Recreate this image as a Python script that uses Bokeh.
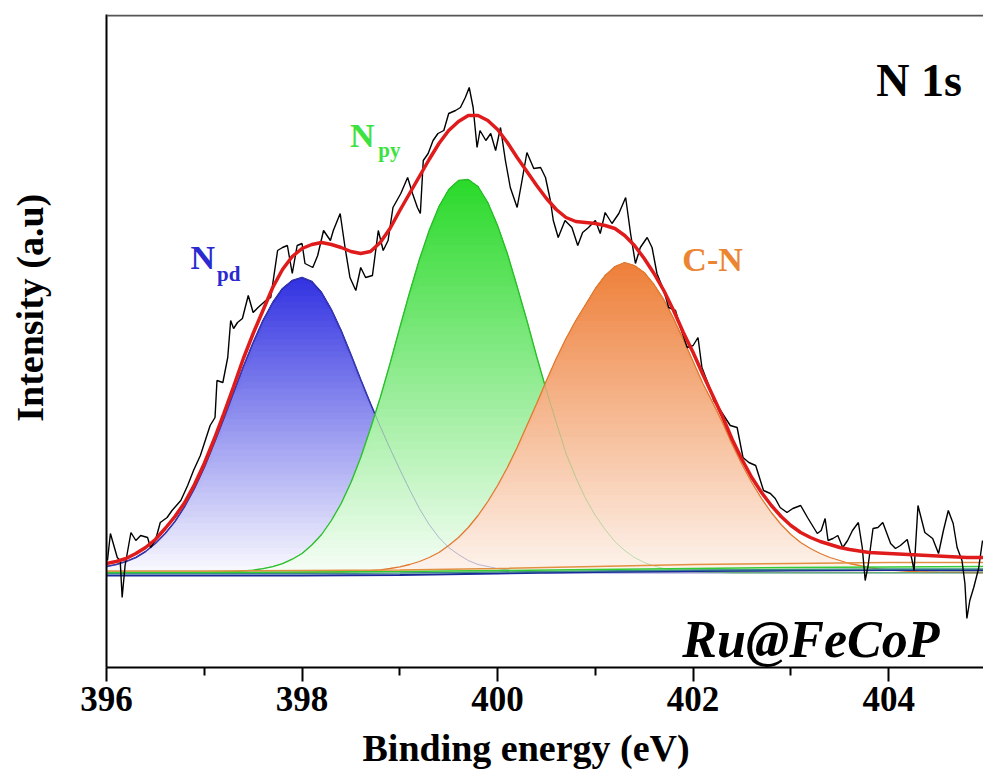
import numpy as np
from bokeh.plotting import figure
from bokeh.models import FixedTicker, Label, Span, Range1d, Title
from bokeh.embed import file_html
from bokeh.resources import INLINE

# ---------------- data ----------------
# common energy grid for the fitted components, 396.0 ... 405.0 eV in 0.1 eV steps
energy = np.round(np.linspace(396.0, 405.0, 91), 1)

peak_npd = [6, 8, 11, 15, 21, 29, 39, 51, 66, 84,
            105, 129, 154, 180, 206, 230, 252, 270, 284, 292,
            295, 291, 280, 263, 242, 218, 193, 169, 146, 124,
            103, 83, 64, 48, 35, 25, 18, 12, 8, 6,
            4, 2.5, 1.5, 1, 0.5, 0, 0, 0, 0, 0,
            0, 0, 0, 0, 0, 0, 0, 0, 0, 0,
            0, 0, 0, 0, 0, 0, 0, 0, 0, 0,
            0, 0, 0, 0, 0, 0, 0, 0, 0, 0,
            0, 0, 0, 0, 0, 0, 0, 0, 0, 0,
            0]

peak_npy = [0, 0, 0, 0, 0, 0, 0, 0, 0, 0,
            0.2, 0.3, 0.5, 0.9, 1.5, 2.4, 3.8, 5.9, 8.9, 13.3,
            19, 27.5, 38, 52, 69, 90, 115, 144, 175, 209,
            245, 280, 313, 342, 366, 383, 392, 393, 386, 370,
            347, 319, 286, 252, 216, 182, 150, 119, 95, 74,
            57, 43, 31, 22, 15, 10, 6.5, 4, 2.6, 1.6,
            1, 0.6, 0.3, 0.1, 0, 0, 0, 0, 0, 0,
            0, 0, 0, 0, 0, 0, 0, 0, 0, 0,
            0, 0, 0, 0, 0, 0, 0, 0, 0, 0,
            0]

peak_cn = [0, 0, 0, 0, 0, 0, 0, 0, 0, 0,
           0, 0, 0, 0, 0, 0, 0, 0, 0, 0,
           0.1, 0.2, 0.3, 0.4, 0.5, 0.8, 1.2, 1.9, 2.7, 4.0,
           5.6, 8, 11, 15, 20, 27, 35, 45, 57, 71,
           87, 105, 125, 147, 169, 192, 214, 234, 252, 268,
           284, 297, 306, 310, 307, 300, 288, 273, 254, 233,
           211, 189, 170, 150, 128, 108, 90, 74, 60, 48,
           38, 30, 24, 19, 15, 12, 9, 7, 5, 3.5,
           2.5, 1.8, 1.2, 0.8, 0.5, 0.3, 0.2, 0.1, 0, 0,
           0]

envelope = [9, 11, 14, 19, 25, 33, 44, 56, 70, 88,
            109, 133, 159, 186, 214, 239, 262, 285, 303, 316,
            324, 328, 330, 328, 325, 321, 319, 321, 330, 344,
            362, 379, 396, 413, 429, 442, 451, 457, 457, 452,
            443, 430, 415, 401, 387, 374, 363, 355, 351, 350,
            349, 347, 344, 337, 327, 314, 299, 282, 262, 240,
            220, 198, 177, 156, 133, 113, 95, 80, 67, 56,
            47, 40, 35, 31, 28, 25, 23, 21.5, 20, 19.5,
            19, 18.5, 18, 17.5, 17, 16.5, 16, 15.5, 15, 15,
            15]

# measured spectrum (raw counts, arbitrary units)
raw_energy = [396.01, 396.04, 396.11, 396.14, 396.16, 396.19, 396.25, 396.30, 396.35, 396.42,
              396.45, 396.50, 396.55, 396.62, 396.67, 396.76, 396.83, 396.89, 396.96, 397.01,
              397.06, 397.11, 397.13, 397.19, 397.24, 397.27, 397.30, 397.34, 397.39, 397.45,
              397.50, 397.55, 397.63, 397.68, 397.75, 397.80, 397.85, 397.90, 397.95, 398.00,
              398.03, 398.11, 398.16, 398.22, 398.29, 398.32, 398.39, 398.44, 398.49, 398.55,
              398.60, 398.65, 398.72, 398.78, 398.83, 398.88, 398.93, 399.01, 399.08, 399.13,
              399.18, 399.21, 399.24, 399.29, 399.34, 399.39, 399.45, 399.50, 399.57, 399.62,
              399.67, 399.71, 399.75, 399.79, 399.82, 399.88, 399.93, 399.98, 400.03, 400.08,
              400.13, 400.20, 400.25, 400.30, 400.37, 400.44, 400.49, 400.54, 400.57, 400.62,
              400.69, 400.76, 400.82, 400.87, 400.93, 401.00, 401.05, 401.10, 401.17, 401.24,
              401.31, 401.36, 401.41, 401.46, 401.53, 401.58, 401.63, 401.70, 401.75, 401.82,
              401.87, 401.94, 402.00, 402.05, 402.09, 402.18, 402.21, 402.28, 402.38, 402.45,
              402.51, 402.57, 402.64, 402.72, 402.79, 402.84, 402.89, 402.96, 403.02, 403.10,
              403.17, 403.22, 403.27, 403.31, 403.35, 403.38, 403.43, 403.48, 403.53, 403.58,
              403.63, 403.69, 403.73, 403.76, 403.79, 403.84, 403.89, 403.94, 404.02, 404.07,
              404.12, 404.19, 404.24, 404.26, 404.30, 404.37, 404.45, 404.51, 404.56, 404.61,
              404.66, 404.70, 404.75, 404.78, 404.80, 404.83, 404.87, 404.92, 404.96]
raw_counts = [12, 39, 15, 12, -25, 7, 40, 32, 37, 35,
              25, 32, 50, 55, 62, 72, 87, 102, 117, 132,
              147, 155, 192, 190, 215, 252, 244, 250, 254, 277,
              260, 265, 272, 275, 322, 325, 327, 299, 327, 329,
              309, 305, 317, 342, 332, 342, 359, 325, 295, 282,
              305, 295, 297, 342, 322, 332, 365, 379, 395, 379,
              365, 359, 412, 419, 432, 439, 442, 459, 462, 465,
              475, 485, 465, 425, 442, 432, 439, 422, 445, 412,
              385, 365, 392, 420, 404, 405, 395, 372, 352, 335,
              352, 345, 327, 340, 345, 352, 339, 360, 349, 359,
              375, 339, 309, 325, 335, 325, 299, 282, 265, 262,
              245, 225, 227, 235, 205, 182, 172, 162, 147, 145,
              115, 110, 107, 82, 79, 74, 65, 60, 64, 67,
              55, 47, 39, 42, 54, 32, 34, 37, 25, 32,
              42, 50, 25, -8, 7, 44, 45, 50, 29, 24,
              27, 33, 12, 2, 67, 40, 34, 19, 42, 62,
              49, 25, 12, -11, -46, -28, -15, 4, 32]

# fitted backgrounds of the three components
bg_energy = [396.0, 397.0, 398.0, 399.0, 400.0, 401.0, 402.0, 403.0, 404.0, 405.0]
bg_npd = [-3, -3, -3, -2.5, -1, 0.5, 1.5, 2, 2.5, 2.5]
bg_mix = [-1, -1, -1, -0.5, 0.5, 1.5, 2.5, 3, 3.5, 3.5]
bg_npy = [0, 0, 0.5, 1, 2, 3, 4, 5, 5.5, 6]
bg_cn = [1.5, 1.5, 2, 2.5, 4, 6, 8, 9, 10, 10]

x_ticks = [396, 398, 400, 402, 404]
x_minor = [397, 399, 401, 403]

# ---------------- figure ----------------
SERIF = "Liberation Serif"

p = figure(width=983, height=780, output_backend="svg", toolbar_location=None,
           x_range=Range1d(396, 404.97), y_range=Range1d(-95, 558),
           min_border_left=106, min_border_right=0, min_border_top=14,
           min_border_bottom=113)
p.outline_line_color = None
p.grid.visible = False
p.background_fill_color = "white"
p.border_fill_color = "white"


def mix(rgb, f):
    r, g, b = (int(round(255 + (c - 255) * f)) for c in rgb)
    return "#%02x%02x%02x" % (r, g, b)


def gradient_fill(x, y, rgb, base, n=48):
    """Opaque vertical gradient: white-ish at the baseline, full colour at the top."""
    y = np.asarray(y, dtype=float)
    h = y.max()
    levels = np.linspace(0, h, n + 1)[:-1]
    for i, lev in enumerate(levels):
        f = base + (1 - base) * (i + 1) / n
        p.varea(x=x, y1=np.minimum(y, lev), y2=y, fill_color=mix(rgb, f), fill_alpha=1.0)


gradient_fill(energy, peak_npd, (52, 52, 226), 0.02)
p.line(energy, peak_npd, line_color="#1a1aa8", line_width=1.5)
gradient_fill(energy, peak_npy, (44, 218, 44), 0.03)
p.line(energy, peak_npy, line_color="#22c022", line_width=1.3)
gradient_fill(energy, peak_cn, (238, 128, 58), 0.08)
p.line(energy, peak_cn, line_color="#e07a30", line_width=1.3)
# hidden parts of the component outlines show through faintly
p.line(energy, peak_npd, line_color="#6a6ab0", line_width=1.0, line_alpha=0.45)
p.line(energy, peak_npy, line_color="#44bb44", line_width=1.0, line_alpha=0.35)

p.line(bg_energy, bg_npd, line_color="#1a2a9a", line_width=2)
p.line(bg_energy, bg_mix, line_color="#3a8a8a", line_width=1.5)
p.line(bg_energy, bg_npy, line_color="#33cc33", line_width=1.5)
p.line(bg_energy, bg_cn, line_color="#e09040", line_width=1.5)

p.line(raw_energy, raw_counts, line_color="black", line_width=1.4)
p.line(energy, envelope, line_color="#e01b1b", line_width=3.5)

# top frame line
p.add_layout(Span(location=557, dimension="width", line_color="#555555", line_width=2))

# axes
xa = p.xaxis[0]
xa.ticker = FixedTicker(ticks=x_ticks, minor_ticks=x_minor)
xa.axis_line_width = 2
xa.major_tick_line_width = 2
xa.minor_tick_line_width = 2
xa.major_tick_out = 14
xa.major_tick_in = 0
xa.minor_tick_out = 8
xa.minor_tick_in = 0
xa.major_label_standoff = 5
xa.major_label_text_font = SERIF
xa.major_label_text_font_style = "bold"
xa.major_label_text_font_size = "35px"
xa.major_label_text_color = "black"

ya = p.yaxis[0]
ya.ticker = FixedTicker(ticks=[])
ya.axis_line_width = 2
ya.major_tick_line_color = None
ya.minor_tick_line_color = None
ya.major_label_text_font_size = "0px"
# leading no-break spaces lift the centred title a little, as in the original
ya.axis_label = "\u00a0" * 7 + "Intensity (a.u)"
ya.axis_label_text_font = SERIF
ya.axis_label_text_font_style = "bold"
ya.axis_label_text_font_size = "38px"
ya.axis_label_text_color = "black"
ya.axis_label_standoff = 56

# x-axis title (side title, offset from the frame edge like in the original)
p.add_layout(Title(text="Binding energy (eV)", align="left", offset=256,
                   text_font=SERIF, text_font_style="bold", text_font_size="38px",
                   text_color="black", standoff=22), "below")


# annotations
def lab(x, y, text, size, color, style="bold", align="left"):
    p.add_layout(Label(x=x, y=y, text=text, text_align=align, text_baseline="alphabetic",
                       text_font=SERIF, text_font_style=style, text_font_size=size,
                       text_color=color))


lab(404.75, 492, "N 1s", "46px", "black", align="right")
lab(396.86, 315, "N", "34px", "#2a2ad0")
lab(397.13, 299, "pd", "21px", "#2a2ad0")
lab(398.49, 437, "N", "34px", "#3ee23e")
lab(398.78, 423, "py", "21px", "#3ee23e")
lab(401.89, 313, "C-N", "34px", "#ec8532")
lab(401.89, -67, "Ru@FeCoP", "52px", "black", style="bold italic")

open("out.html", "w").write(file_html(p, INLINE))
